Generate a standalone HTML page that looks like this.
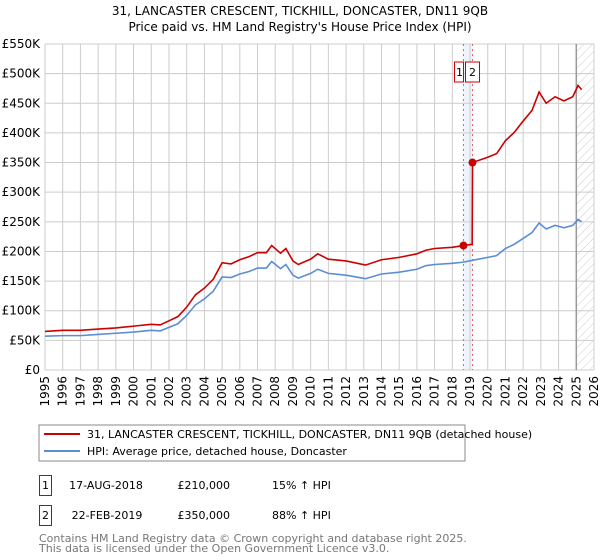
<!DOCTYPE html>
<html><head><meta charset="utf-8"><style>
body{margin:0;background:#fff;font-family:"Liberation Sans","DejaVu Sans",sans-serif;}
#wrap{position:relative;width:600px;height:560px;overflow:hidden}
</style></head><body><div id="wrap">
<svg id="svg" width="600" height="560" xmlns="http://www.w3.org/2000/svg" font-family="DejaVu Sans, Liberation Sans, sans-serif">
<defs><pattern id="hatch" width="6" height="6" patternUnits="userSpaceOnUse" patternTransform="rotate(45)"><line x1="0" y1="0" x2="0" y2="6" stroke="#ccc" stroke-width="1"/></pattern></defs>
<text x="300" y="15" text-anchor="middle" font-size="12">31, LANCASTER CRESCENT, TICKHILL, DONCASTER, DN11 9QB</text>
<text x="300" y="31" text-anchor="middle" font-size="12">Price paid vs. HM Land Registry's House Price Index (HPI)</text>
<g id="grid"></g><g id="series"></g><g id="axes"></g>
<rect x="39" y="425" width="426" height="36" fill="#fff" stroke="#888"/>
<line x1="44" y1="434" x2="80" y2="434" stroke="#cc0000" stroke-width="2"/>
<text x="87" y="438" font-size="11">31, LANCASTER CRESCENT, TICKHILL, DONCASTER, DN11 9QB (detached house)</text>
<line x1="44" y1="451" x2="80" y2="451" stroke="#5b8dd6" stroke-width="2"/>
<text x="87" y="455" font-size="11">HPI: Average price, detached house, Doncaster</text>
<g font-size="11">
<rect x="39.5" y="475.5" width="12" height="20" fill="none" stroke="#cc0000"/>
<text x="45.5" y="489" text-anchor="middle">1</text>
<text x="106" y="489" text-anchor="middle">17-AUG-2018</text>
<text x="230" y="489" text-anchor="end">£210,000</text>
<text x="272" y="489">15% ↑ HPI</text>
<rect x="39.5" y="505.5" width="12" height="20" fill="none" stroke="#cc0000"/>
<text x="45.5" y="519" text-anchor="middle">2</text>
<text x="107" y="519" text-anchor="middle">22-FEB-2019</text>
<text x="230" y="519" text-anchor="end">£350,000</text>
<text x="272" y="519">88% ↑ HPI</text>
</g>
<text x="39" y="542" font-size="11" fill="#777">Contains HM Land Registry data © Crown copyright and database right 2025.</text>
<text x="39" y="552" font-size="11" fill="#777">This data is licensed under the Open Government Licence v3.0.</text>
</svg></div>
<script>
const yTicks=[0,50,100,150,200,250,300,350,400,450,500,550];
const yTickLabels=["£0","£50K","£100K","£150K","£200K","£250K","£300K","£350K","£400K","£450K","£500K","£550K"];
const xYears=[1995,1996,1997,1998,1999,2000,2001,2002,2003,2004,2005,2006,2007,2008,2009,2010,2011,2012,2013,2014,2015,2016,2017,2018,2019,2020,2021,2022,2023,2024,2025,2026];
const hpiYears=[1995,1996,1997,1998,1999,2000,2001,2001.5,2002,2002.5,2003,2003.5,2004,2004.5,2005,2005.5,2006,2006.5,2007,2007.5,2007.8,2008.3,2008.6,2009,2009.3,2010,2010.4,2011,2012,2013.1,2014,2015,2016,2016.5,2017,2018,2018.63,2019.14,2020,2020.5,2021,2021.5,2022,2022.5,2022.9,2023.3,2023.8,2024.3,2024.8,2025.1,2025.3];
const hpiValues=[57,58,58,60,62,64,67,66,72,78,92,110,120,133,157,156,162,166,172,172,183,171,178,160,155,163,170,163,160,154,162,165,170,176,178,180,182,185,190,193,205,212,222,232,248,238,244,240,244,254,250];
const redYears=[1995,1996,1997,1998,1999,2000,2001,2001.5,2002,2002.5,2003,2003.5,2004,2004.5,2005,2005.5,2006,2006.5,2007,2007.5,2007.8,2008.3,2008.6,2009,2009.3,2010,2010.4,2011,2012,2013.1,2014,2015,2016,2016.5,2017,2018,2018.63,2019.12,2019.14,2020,2020.5,2021,2021.5,2022,2022.5,2022.9,2023.3,2023.8,2024.3,2024.8,2025.1,2025.3];
const redValues=[65,67,67,69,71,74,77,76,83,90,106,127,138,153,181,179,186,191,198,198,210,197,205,184,178,187,196,187,184,177,186,190,196,202,205,207,210,212,350,359,365,387,401,420,438,469,450,461,454,461,480,473];
const saleYears=[2018.63,2019.14];
const saleValues=[210,350];
const saleLabels=["1","2"];
const X0=45,X1=594,Y0=370,Y1=44;
const x=y=>X0+(y-1995)/(2026-1995)*(X1-X0);
const yv=v=>Y0-v/550*(Y0-Y1);
const NS="http://www.w3.org/2000/svg";
function mk(t,a,p){const e=document.createElementNS(NS,t);for(const k in a)e.setAttribute(k,a[k]);p.appendChild(e);return e;}
const grid=document.getElementById('grid'),ser=document.getElementById('series'),ax=document.getElementById('axes');
let band=mk('rect',{x:x(saleYears[0]),y:Y1,width:x(saleYears[1])-x(saleYears[0]),height:Y0-Y1,fill:'#eef3fc'},grid);


let hat=mk('rect',{x:x(2025.0),y:Y1,width:X1-x(2025.0),height:Y0-Y1,fill:'url(#hatch)'},grid);


yTicks.forEach((t,i)=>{
 let l=mk('line',{x1:X0,x2:X1,y1:yv(t),y2:yv(t),stroke:'#ccc'},grid);
 
 
 let tx=mk('text',{x:X0-5,y:yv(t)+4,'text-anchor':'end','font-size':'12'},ax);
 tx.textContent=yTickLabels[i];
 
 
});
xYears.forEach(yr=>{
 let l=mk('line',{x1:x(yr),x2:x(yr),y1:Y1,y2:Y0,stroke:'#ccc'},grid);
 
 
 let tx=mk('text',{x:0,y:0,'font-size':'12',transform:`translate(${x(yr)+4},${Y0+6}) rotate(-90)`,'text-anchor':'end'},ax);
 tx.textContent=yr;
 
 
});
let nl=mk('line',{x1:x(2025.0),x2:x(2025.0),y1:Y1,y2:Y0,stroke:'#999','stroke-width':1.5},grid);


saleYears.forEach((s,i)=>{
 let l=mk('line',{x1:x(s),x2:x(s),y1:Y1,y2:Y0,stroke:'#e06666','stroke-dasharray':'2,3'},grid);
 
 
 let r=mk('rect',{x:x(s)-7+(i?0:-2),y:62,width:(i?14:9),height:20,fill:'#fff',stroke:'#cc0000'},ax);
 
 
 let t=mk('text',{x:x(s)+(i?0:-4),y:76,'text-anchor':'middle','font-size':'11'},ax);
 t.textContent=saleLabels[i];
 
 
});
function path(xs,vs,c,name){
 let p=mk('polyline',{points:xs.map((a,i)=>x(a)+','+yv(vs[i])).join(' '),fill:'none',stroke:c,'stroke-width':1.6},ser);
 
 
}
path(hpiYears,hpiValues,'#5b8dd6','hpi-line');
path(redYears,redValues,'#cc0000','property-line');
saleYears.forEach((s,i)=>{
 let c=mk('circle',{cx:x(s),cy:yv(saleValues[i]),r:4,fill:'#cc0000'},ser);
 
 
});
</script></body></html>
